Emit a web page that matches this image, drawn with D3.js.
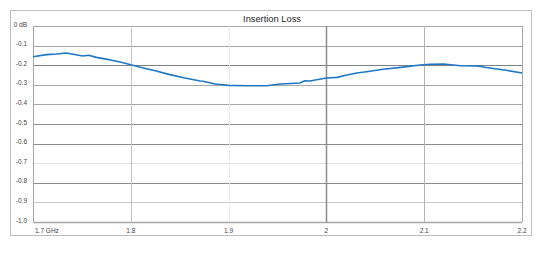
<!DOCTYPE html>
<html>
<head>
<meta charset="utf-8">
<script src="https://cdn.jsdelivr.net/npm/d3@7"></script>
<style>
  body { margin: 0; background: #fff; }
  text { font-family: "Liberation Sans", Arial, sans-serif; }
</style>
</head>
<body>
<svg id="chart" width="547" height="253"></svg>
<script>
"use strict";

// frequency (GHz) and insertion loss (dB)
var freq = [1.700, 1.714, 1.724, 1.734, 1.741, 1.751, 1.757, 1.765, 1.779, 1.789,
  1.801, 1.813, 1.826, 1.840, 1.854, 1.871, 1.874, 1.886, 1.900, 1.918,
  1.939, 1.953, 1.973, 1.978, 1.983, 2.000, 2.011, 2.021, 2.031, 2.041,
  2.058, 2.076, 2.096, 2.106, 2.120, 2.137, 2.154, 2.167, 2.184, 2.200];
var loss = [-0.157, -0.146, -0.143, -0.138, -0.144, -0.153, -0.149, -0.160, -0.173, -0.184,
  -0.199, -0.214, -0.230, -0.248, -0.264, -0.281, -0.282, -0.296, -0.303, -0.305,
  -0.305, -0.296, -0.291, -0.279, -0.281, -0.265, -0.262, -0.250, -0.240, -0.233,
  -0.221, -0.211, -0.199, -0.195, -0.194, -0.203, -0.204, -0.214, -0.226, -0.240];

var xTicks = [1.7, 1.8, 1.9, 2.0, 2.1, 2.2];
var xTickLabels = ["1.7 GHz", "1.8", "1.9", "2", "2.1", "2.2"];
var yTicks = [0, -0.1, -0.2, -0.3, -0.4, -0.5, -0.6, -0.7, -0.8, -0.9, -1.0];
var yTickLabels = ["0 dB", "-0.1", "-0.2", "-0.3", "-0.4", "-0.5", "-0.6", "-0.7", "-0.8", "-0.9", "-1.0"];
var title = "Insertion Loss";

// grid shades as they appear in the reference image
var yGridShade = ["#a6a6a6", "#a6a6a6", "#808080", "#a6a6a6", "#a6a6a6", "#8c8c8c",
  "#8c8c8c", "#e2e2e2", "#8c8c8c", "#c8c8c8", "#a6a6a6"];
var xGridShade = ["#a6a6a6", "#c4c4c4", "#ececec", "#8a8a8a", "#b4b4b4", "#a6a6a6"];

var svg = d3.select("#chart");

var margin = {top: 26, right: 25, bottom: 31, left: 33},
  width = 547 - margin.left - margin.right,
  height = 253 - margin.top - margin.bottom;

// outer frame
svg.append("rect")
  .attr("x", 10.5).attr("y", 10.5)
  .attr("width", 521).attr("height", 225)
  .attr("fill", "#fff")
  .attr("stroke", "#bdbdbd");

svg.append("text")
  .attr("x", 272).attr("y", 22)
  .attr("text-anchor", "middle")
  .attr("font-size", 9.3)
  .attr("fill", "#262626")
  .text(title);

var g = svg.append("g").attr("transform", "translate(" + margin.left + "," + margin.top + ")");

var x = d3.scaleLinear().domain([1.7, 2.2]).range([0, width]);
var y = d3.scaleLinear().domain([-1.0, 0]).range([height, 0]);

// horizontal grid
g.append("g")
  .selectAll("line")
  .data(yTicks)
  .join("line")
  .attr("x1", 0).attr("x2", width)
  .attr("y1", function(d) { return Math.round(y(d)) + 0.5; })
  .attr("y2", function(d) { return Math.round(y(d)) + 0.5; })
  .attr("stroke", function(d, i) { return yGridShade[i]; })
  .attr("stroke-width", function(d, i) { return i === yTicks.length - 1 ? 1.5 : 1; });

// vertical grid
g.append("g")
  .selectAll("line")
  .data(xTicks)
  .join("line")
  .attr("y1", 0).attr("y2", height)
  .attr("x1", function(d) { return Math.round(x(d)) + 0.5; })
  .attr("x2", function(d) { return Math.round(x(d)) + 0.5; })
  .attr("stroke", function(d, i) { return xGridShade[i]; })
  .attr("stroke-width", function(d, i) { return i === 3 ? 1.5 : 1; });

// y labels
g.append("g")
  .selectAll("text")
  .data(yTicks)
  .join("text")
  .attr("x", -6)
  .attr("y", function(d) { return y(d); })
  .attr("dy", "0.1em")
  .attr("text-anchor", "end")
  .attr("font-size", 6.5)
  .attr("fill", "#444")
  .text(function(d, i) { return yTickLabels[i]; });

// x labels
g.append("g")
  .selectAll("text")
  .data(xTicks)
  .join("text")
  .attr("x", function(d, i) { return i === 0 ? x(d) + 2 : x(d); })
  .attr("y", height + 11)
  .attr("text-anchor", function(d, i) { return i === 0 ? "start" : "middle"; })
  .attr("font-size", 6.5)
  .attr("fill", "#444")
  .text(function(d, i) { return xTickLabels[i]; });

var line = d3.line()
  .x(function(d, i) { return x(freq[i]); })
  .y(function(d) { return y(d); });

g.append("path")
  .datum(loss)
  .attr("fill", "none")
  .attr("stroke", "#1f77c8")
  .attr("stroke-width", 1.6)
  .attr("stroke-linejoin", "round")
  .attr("d", line);
</script>
</body>
</html>
